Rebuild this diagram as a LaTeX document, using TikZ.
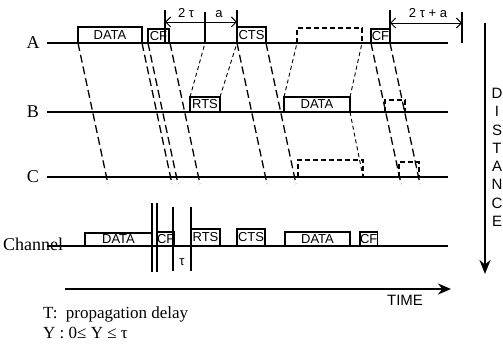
\documentclass[tikz,border=0pt]{standalone}
\usepackage{fontspec}
\setmainfont{Liberation Serif}
\setsansfont{Liberation Sans}
\usetikzlibrary{arrows.meta}

\begin{document}
\begin{tikzpicture}[
    x=1pt, y=-1pt,
    >=Stealth,
    track/.style={line width=1.6pt},
    rowlabel/.style={font=\fontsize{18}{20}\selectfont, inner sep=0pt},
    pkt/.style={draw, line width=1.3pt, anchor=south west, inner sep=0pt,
                outer sep=0pt, font=\sffamily\fontsize{13}{14}\selectfont},
    frame/.style={anchor=south west, inner sep=0pt, outer sep=0pt},
    fwd/.style={line width=1.3pt, dash pattern=on 8pt off 4pt},
    back/.style={line width=0.9pt, dash pattern=on 4pt off 3pt},
    echo/.style={line width=1.3pt, dash pattern=on 5pt off 3pt},
    bar/.style={line width=1.4pt},
    dim/.style={line width=0.9pt,
                {Straight Barb[length=5pt,width=10pt]}-{Straight Barb[length=5pt,width=10pt]}},
    dimlabel/.style={font=\sffamily\fontsize{13}{14}\selectfont, inner sep=0pt},
    letter/.style={font=\sffamily\fontsize{15}{16}\selectfont, inner sep=0pt},
    note/.style={font=\fontsize{17}{19}\selectfont, anchor=west, inner sep=0pt}
  ]
    \useasboundingbox (0,0) rectangle (503,347);

    % stations
    \node[rowlabel] (A) at (33,43)  {A};
    \node[rowlabel] (B) at (33,112) {B};
    \node[rowlabel] (C) at (33,177) {C};
    \node[rowlabel, anchor=west] (ch) at (3,244) {Channel};
    \draw[track] (47,43)  -- (448,43);
    \draw[track] (47,112) -- (448,112);
    \draw[track] (47,177) -- (448,177);
    \draw[track] (47,246) -- (448,246);

    % frames sent by A
    \node[pkt, minimum width=64pt, minimum height=16pt] (adata) at (78,43)  {DATA};
    \node[pkt, minimum width=21pt, minimum height=14pt] (acf)   at (148,43) {CF};
    \node[pkt, minimum width=29pt, minimum height=16pt] (acts)  at (237,43) {CTS};
    \node[pkt, minimum width=19pt, minimum height=14pt] (acf2)  at (371,43) {CF};

    % frames sent by B
    \node[pkt, minimum width=30pt, minimum height=15pt] (brts)  at (190,112) {RTS};
    \node[pkt, minimum width=66pt, minimum height=15pt] (bdata) at (284,112) {DATA};

    % received copies
    \node[frame, minimum width=65pt, minimum height=15pt] (aecho) at (297,43)  {};
    \node[frame, minimum width=65pt, minimum height=17pt] (cecho) at (298,177) {};
    \node[frame, minimum width=20pt, minimum height=12pt] (bcf)   at (385,112) {};
    \node[frame, minimum width=20pt, minimum height=15pt] (ccf)   at (399,177) {};
    \foreach \f in {aecho, cecho, bcf, ccf}
      \draw[echo] (\f.south west) -- (\f.north west) -- (\f.north east) -- (\f.south east);

    % propagation from A
    \draw[fwd] (adata.south west) -- ++(30,141);
    \draw[fwd] (adata.south east) -- ++(30,141);
    \draw[fwd] (acf.south west)   -- ++(30,141);
    \draw[fwd] ([xshift=1pt]acf.south east) -- ++(30,141);
    \draw[fwd] (acts.south west)  -- ++(30,141);
    \draw[fwd] (acts.south east)  -- ++(30,141);
    \draw[fwd] (acf2.south west)  -- ++(30,141);
    \draw[fwd] (acf2.south east)  -- ++(30,141);

    % propagation from B
    \coordinate (mid) at (205,43);
    \draw[back] (brts.north west)  -- (mid);
    \draw[back] (brts.north east)  -- (acts.south west);
    \draw[back] (bdata.north west) -- (aecho.south west);
    \draw[back] (bdata.north east) -- (aecho.south east);
    \draw[back] (bdata.south east) -- (cecho.south east);

    % 2tau and a
    \draw[bar] (165,10) -- (165,43);
    \draw[bar] (205,12) -- (mid);
    \draw[bar] (237,10) -- (acts.south west);
    \draw[dim] (165,22) -- (237,22);
    \node[dimlabel] (ltau) at (186,13) {2 τ};
    \node[dimlabel] (la)   at (219,14) {a};

    % 2tau + a
    \draw[bar] (390,10) -- (acf2.south east);
    \draw[bar] (462,12) -- (462,43);
    \draw[dim] (390,23) -- (462,23);
    \node[dimlabel] (ltaua) at (428,13) {2 τ + a};

    % channel occupancy
    \node[pkt, minimum width=67pt, minimum height=13pt] (chdata)  at (85,246)  {DATA};
    \node[pkt, minimum width=16pt, minimum height=14pt] (chcf)    at (157,246) {CF};
    \node[pkt, minimum width=29pt, minimum height=17pt] (chrts)   at (191,246) {RTS};
    \node[pkt, minimum width=28pt, minimum height=17pt] (chcts)   at (237,246) {CTS};
    \node[pkt, minimum width=65pt, minimum height=14pt] (chdata2) at (285,246) {DATA};
    \node[pkt, minimum width=17pt, minimum height=14pt] (chcf2)   at (360,246) {CF};
    \draw[bar] (152,203) -- (152,272);
    \draw[bar] (157,203) -- (157,272);
    \draw[bar] (173,207) -- (173,271);
    \draw[bar] (191,207) -- (191,271);
    \node[dimlabel] (ltau2) at (182,262) {τ};

    % axes
    \draw[line width=2.2pt, -{Stealth[length=14pt,width=11pt]}] (485,23) -- (485,274);
    \foreach \l [count=\i] in {D,I,S,T,A,N,C,E}
      \node[letter] (dist\i) at (497,75+18.3*\i) {\l};
    \draw[line width=2.2pt, -{Stealth[length=13pt,width=11pt]}] (65,289) -- (451,289);
    \node[letter] (time) at (405,300) {TIME};

    % legend
    \node[note] (n1) at (43,314) {T:\ \ propagation delay};
    \node[note] (n2) at (43,333) {Y : 0≤ Y ≤ τ};
\end{tikzpicture}
\end{document}
